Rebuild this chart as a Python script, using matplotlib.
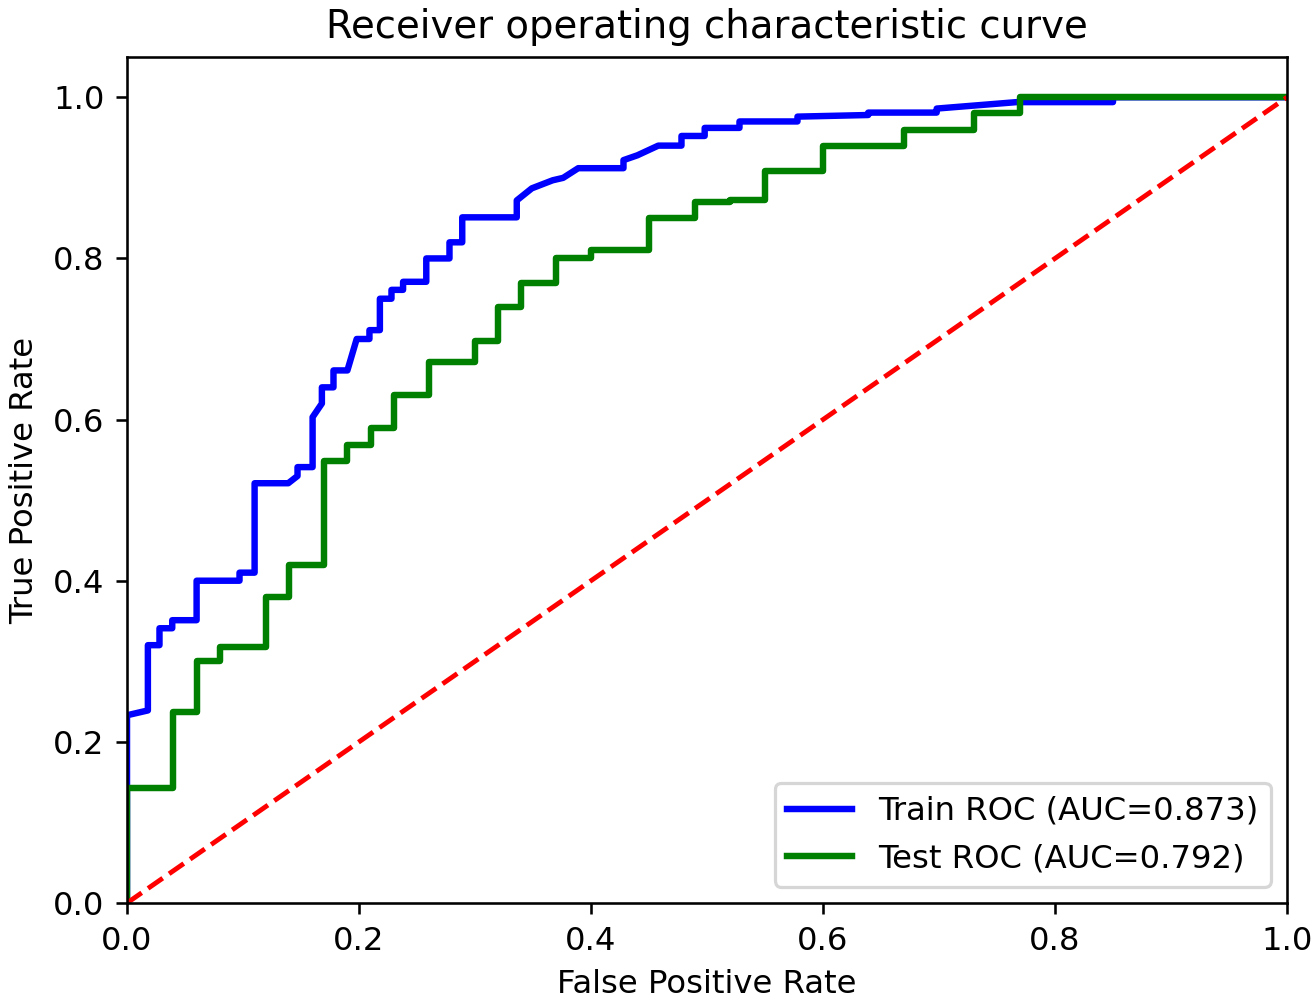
import matplotlib
matplotlib.use("Agg")
import matplotlib.pyplot as plt

# ROC curve points
train_fpr = [0, 0, 0.018, 0.018, 0.028, 0.028, 0.039, 0.039, 0.06, 0.06,
             0.097, 0.097, 0.11, 0.11, 0.139, 0.147, 0.147, 0.16, 0.16, 0.168,
             0.168, 0.178, 0.178, 0.19, 0.198, 0.209, 0.209, 0.218, 0.218, 0.228,
             0.228, 0.238, 0.238, 0.258, 0.258, 0.278, 0.278, 0.289, 0.289, 0.336,
             0.336, 0.349, 0.367, 0.376, 0.389, 0.428, 0.428, 0.44, 0.458, 0.478,
             0.478, 0.498, 0.498, 0.528, 0.528, 0.578, 0.578, 0.639, 0.639, 0.698,
             0.698, 0.767, 0.85, 0.85, 1.0]
train_tpr = [0, 0.233, 0.239, 0.32, 0.32, 0.341, 0.341, 0.351, 0.351, 0.40,
             0.40, 0.41, 0.41, 0.521, 0.521, 0.53, 0.541, 0.541, 0.603, 0.62,
             0.64, 0.64, 0.661, 0.661, 0.70, 0.70, 0.711, 0.711, 0.75, 0.75,
             0.761, 0.761, 0.771, 0.771, 0.80, 0.80, 0.82, 0.82, 0.851, 0.851,
             0.872, 0.887, 0.897, 0.90, 0.912, 0.912, 0.922, 0.928, 0.94, 0.94,
             0.952, 0.952, 0.962, 0.962, 0.970, 0.970, 0.976, 0.978, 0.981, 0.981,
             0.986, 0.994, 0.994, 1.0, 1.0]

test_fpr = [0, 0, 0.04, 0.04, 0.06, 0.06, 0.08, 0.08, 0.12, 0.12, 0.14, 0.14,
            0.17, 0.17, 0.19, 0.19, 0.21, 0.21, 0.23, 0.23, 0.26, 0.26, 0.30, 0.30,
            0.32, 0.32, 0.34, 0.34, 0.37, 0.37, 0.40, 0.40, 0.45, 0.45, 0.49, 0.49,
            0.52, 0.52, 0.55, 0.55, 0.60, 0.60, 0.67, 0.67, 0.73, 0.73, 0.77, 0.77, 1.0]
test_tpr = [0, 0.143, 0.143, 0.237, 0.237, 0.30, 0.30, 0.318, 0.318, 0.38, 0.38, 0.42,
            0.42, 0.548, 0.548, 0.569, 0.569, 0.589, 0.589, 0.63, 0.63, 0.671, 0.671, 0.698,
            0.698, 0.74, 0.74, 0.77, 0.77, 0.80, 0.80, 0.81, 0.81, 0.85, 0.85, 0.87,
            0.87, 0.873, 0.873, 0.909, 0.909, 0.94, 0.94, 0.96, 0.96, 0.981, 0.981, 1.0, 1.0]

train_auc = 0.873
test_auc = 0.792

dpi = 232
fig = plt.figure(figsize=(1312 / dpi, 1000 / dpi), dpi=dpi)
ax = fig.add_axes([127 / 1312, 97 / 1000, 1160 / 1312, 846 / 1000])

ax.plot(train_fpr, train_tpr, color='blue', lw=2, label=f'Train ROC (AUC={train_auc:.3f})')
ax.plot(test_fpr, test_tpr, color='green', lw=2, label=f'Test ROC (AUC={test_auc:.3f})')
ax.plot([0, 1], [0, 1], 'r--', lw=1.5)

ax.set_xlim(0.0, 1.0)
ax.set_ylim(0.0, 1.05)
ax.set_xlabel('False Positive Rate')
ax.set_ylabel('True Positive Rate')
ax.set_title('Receiver operating characteristic curve')
ax.legend(loc='lower right')

fig.savefig('out.png', dpi=dpi)
